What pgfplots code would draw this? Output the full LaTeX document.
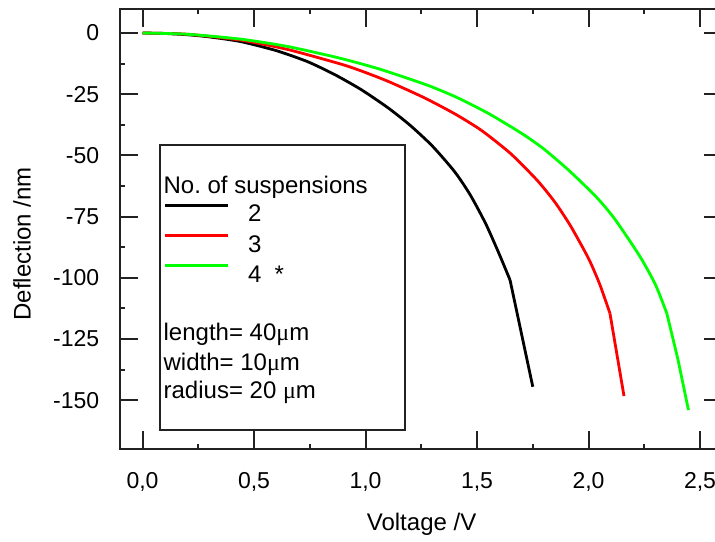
\documentclass[border=0pt]{standalone}
\usepackage{fontspec}
\setmainfont{Liberation Sans}
\newfontfamily\symfont{Liberation Serif}
\usepackage{pgfplots}
\pgfplotsset{compat=1.18}
\definecolor{axgray}{HTML}{222222}
\definecolor{pgreen}{RGB}{0,255,0}
\definecolor{pred}{RGB}{255,0,0}

% 2 suspensions: curved part, then straight part after the kink
\pgfplotstableread{
x y
0 0
0.1 -0.2
0.2 -0.7
0.3 -1.6
0.44 -3.5
0.6 -7.2
0.74 -11.7
0.86 -16.9
0.98 -23.1
1.10 -30.5
1.20 -37.7
1.30 -46.2
1.40 -56.7
1.47 -66.2
1.54 -78.1
1.60 -90.4
1.648 -100.9
}\twosuspA
\pgfplotstableread{
x y
1.648 -100.9
1.75 -144.5
}\twosuspB

\pgfplotstableread{
x y
0 0
0.2 -0.5
0.44 -2.9
0.65 -6.7
0.886 -12.6
0.975 -15.3
1.10 -19.7
1.26 -26.3
1.40 -33.0
1.52 -39.8
1.65 -49.2
1.77 -60.2
1.85 -69.2
1.92 -78.9
2.00 -92.1
2.05 -102.6
2.096 -114.5
}\threesuspA
\pgfplotstableread{
x y
2.096 -114.5
2.159 -148.3
}\threesuspB

\pgfplotstableread{
x y
0 0
0.2 -0.5
0.44 -2.5
0.65 -5.5
0.886 -10.3
1.065 -14.8
1.274 -21.2
1.409 -26.3
1.55 -32.8
1.70 -41.0
1.80 -47.4
1.92 -56.8
2.04 -67.5
2.12 -76.3
2.23 -91.2
2.30 -102.8
2.351 -114.5
}\foursuspA
\pgfplotstableread{
x y
2.351 -114.5
2.40 -133.0
2.448 -154.0
}\foursuspB

\begin{document}
\begin{tikzpicture}
\begin{axis}[
  x=111.5pt, y=1.224pt,
  xmin=-0.1027, xmax=2.6, ymin=-170, ymax=10,
  axis line style={axgray, line width=1pt},
  every tick/.style={axgray, line width=1pt},
  tick align=inside,
  major tick length=9pt, minor tick length=2.5pt,
  xtick={0,0.5,1,1.5,2,2.5},
  xticklabels={{0,0},{0,5},{1,0},{1,5},{2,0},{2,5}},
  ytick={-150,-125,-100,-75,-50,-25,0},
  yticklabels={-150,-125,-100,-75,-50,-25,0},
  minor x tick num=1, minor y tick num=1,
  xticklabel style={font=\fontsize{11.5}{13}\selectfont, anchor=base, inner sep=0pt, yshift=-19.5pt},
  yticklabel style={font=\fontsize{11.5}{13}\selectfont, anchor=east, inner sep=0pt, xshift=-10pt},
  xlabel={Voltage /V},
  xlabel style={at={(axis description cs:0.501,-0.184)}, anchor=base, inner sep=0pt, font=\fontsize{12}{14}\selectfont},
  ylabel={Deflection /nm},
  ylabel style={at={(axis description cs:-0.162,0.466)}, anchor=center, inner sep=0pt, font=\fontsize{12}{14}\selectfont},
  legend style={at={(axis cs:0.092,-85.8)}, anchor=west, draw=none, fill=none,
    inner sep=0pt, row sep=6.2pt, column sep=9.5pt,
    nodes={inner sep=0pt, text height=8.3pt, text depth=0pt},
    font=\fontsize{12}{14}\selectfont},
  legend cell align=left,
  legend image code/.code={\draw[#1] (0pt,4.1pt) -- (31.5pt,4.1pt);},
  every axis plot/.append style={line width=1.4pt, line join=round},
]
\addplot[black, smooth, tension=0.4] table[x=x,y=y] {\twosuspA};
\addlegendentry{2}
\addplot[pred, smooth, tension=0.4] table[x=x,y=y] {\threesuspA};
\addlegendentry{3}
\addplot[pgreen, smooth, tension=0.4] table[x=x,y=y] {\foursuspA};
\addlegendentry{4\hspace{6.5pt}*}
\addplot[black, forget plot] table[x=x,y=y] {\twosuspB};
\addplot[pred, forget plot] table[x=x,y=y] {\threesuspB};
\addplot[pgreen, forget plot] table[x=x,y=y] {\foursuspB};

\draw[axgray, line width=1pt] (axis cs:0.078,-45.75) rectangle (axis cs:1.177,-162.2);
\begin{scope}[every node/.style={anchor=base west, inner sep=0pt, font=\fontsize{12}{14}\selectfont}]
\node at (axis cs:0.093,-65.5) {No.\ of suspensions};
\node at (axis cs:0.093,-125.4) {length= 40{\symfont μ}m};
\node at (axis cs:0.093,-137.7) {width= 10{\symfont μ}m};
\node at (axis cs:0.093,-149.2) {radius= 20 {\symfont μ}m};
\end{scope}
\coordinate (bbA) at (axis cs:-0.639,-207.9);
\coordinate (bbB) at (axis cs:2.567,13.48);
\end{axis}
\pgfresetboundingbox
\useasboundingbox (bbA) rectangle (bbB);
\end{tikzpicture}
\end{document}
